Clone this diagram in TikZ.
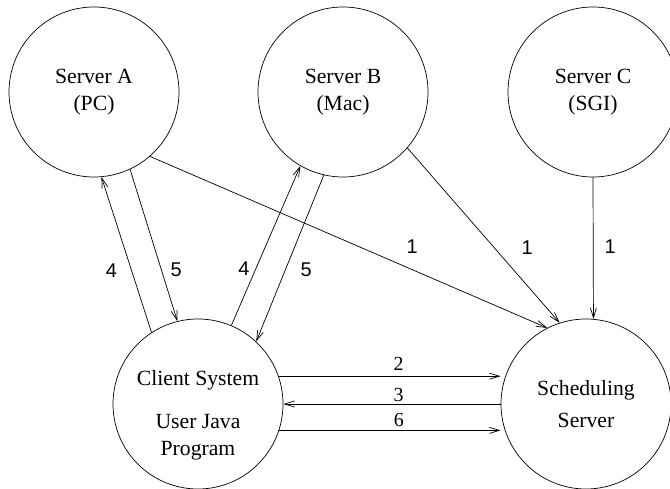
\documentclass[tikz,border=0pt]{standalone}
\usepackage{fontspec}
\setmainfont{Liberation Serif}
\newfontfamily\labelfont{Liberation Sans}
\usetikzlibrary{arrows.meta}

\begin{document}
\begin{tikzpicture}[
	  x=0.03cm, y=-0.03cm,
	  host/.style={circle, draw=black, line width=0.6pt, minimum size=5.1cm, inner sep=0pt, align=center, font=\fontsize{18.5}{23}\selectfont},
	  arrow/.style={line width=0.6pt, -{Straight Barb[length=3mm, width=1.8mm]}},
	  num/.style={font=\labelfont\fontsize{17}{20}\selectfont},
	  numserif/.style={font=\fontsize{17}{20}\selectfont}
	]
	\useasboundingbox (0,0) rectangle (670,489);

	\node (srvA) [host] at (94,92) {Server A\\(PC)};
	\node (srvB) [host] at (343,92) {Server B\\(Mac)};
	\node (srvC) [host] at (593,92) {Server C\\(SGI)};
	\node (client) [host, text height=92pt] at (198,404) {Client System\\[14pt]User Java\\Program};
	\node (sched) [host] at (586,404) {Scheduling\\[5pt]Server};

	\draw [arrow] (client.123) -- node[num, pos=0.40, xshift=-0.6cm] (l4a) {4} (srvA.-85);
	\draw [arrow] (srvA.-65) -- node[num, pos=0.66, xshift=0.45cm] (l5a) {5} (client.104);
	\draw [arrow] (client.67) -- node[num, pos=0.355, xshift=-0.36cm] (l4b) {4} (srvB.-120);
	\draw [arrow] (srvB.-103) -- node[num, pos=0.57, xshift=0.63cm] (l5b) {5} (client.47);
	\draw [arrow] (srvA.-49) -- node[num, pos=0.66, yshift=0.69cm] (l1a) {1} (sched.117);
	\draw [arrow] (srvB.-41) -- node[num, pos=0.57, xshift=0.99cm] (l1b) {1} (sched.108);
	\draw [arrow] (srvC.-90) -- node[num, pos=0.49, xshift=0.51cm] (l1c) {1} (sched.85);
	\draw [arrow] (client.19) -- node[numserif, pos=0.54, yshift=0.36cm] (l2) {2} (client.19 -| sched.west);
	\draw [arrow] (sched.west) -- node[numserif, pos=0.47, yshift=0.27cm] (l3) {3} (sched.west -| client.east);
	\draw [arrow] (client.-18) -- node[numserif, pos=0.54, yshift=0.3cm] (l6) {6} (client.-18 -| sched.west);

\end{tikzpicture}
\end{document}
